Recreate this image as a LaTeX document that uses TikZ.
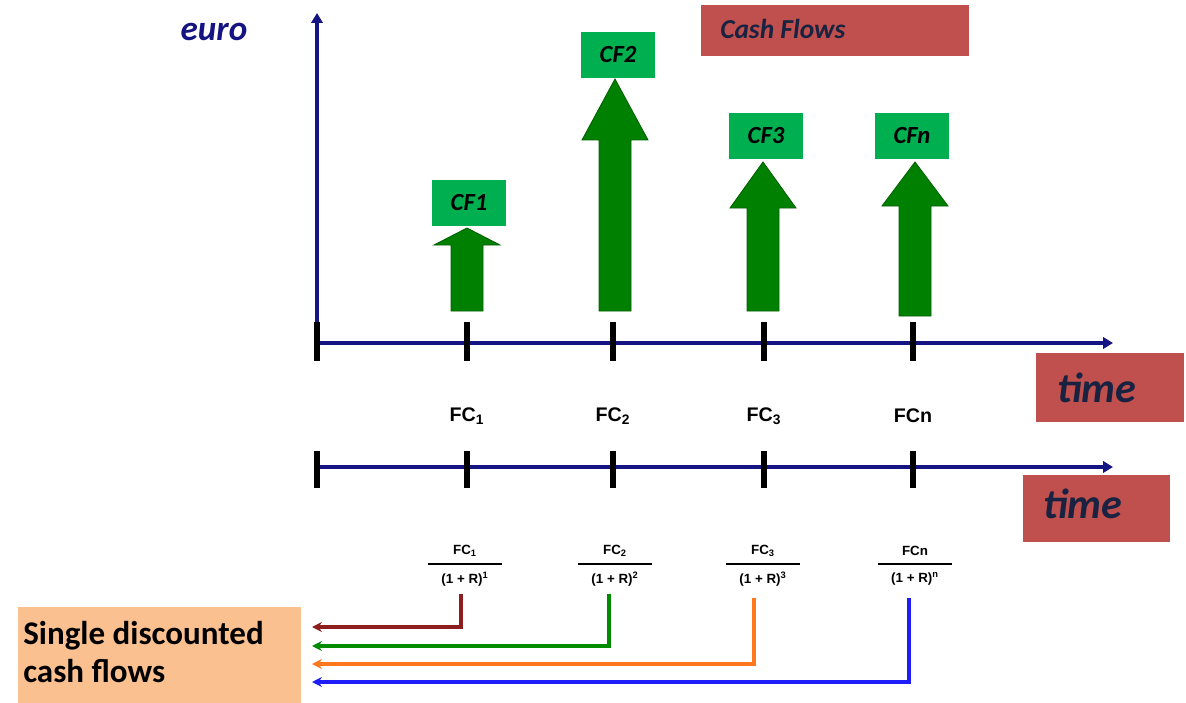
\documentclass[tikz,border=0pt]{standalone}
\usepackage{fontspec}
\setmainfont{Carlito}
\newfontfamily\arialfont{Liberation Sans}
\usetikzlibrary{arrows.meta, positioning}
\definecolor{navy}{RGB}{20,20,130}
\definecolor{cfred}{RGB}{192,80,77}
\definecolor{cftext}{RGB}{25,35,65}
\definecolor{cflight}{RGB}{0,176,80}
\definecolor{cfdark}{RGB}{0,128,0}
\definecolor{cfedge}{RGB}{0,95,0}
\definecolor{discorange}{RGB}{250,192,144}
\definecolor{linered}{RGB}{140,30,30}
\definecolor{linegreen}{RGB}{0,140,0}
\definecolor{lineorange}{RGB}{255,120,30}
\definecolor{lineblue}{RGB}{30,30,250}
\tikzset{
    axis/.style={navy, line width=2.6pt, -{Triangle[length=7pt, width=8pt]}},
    tick/.style={black, line width=4.2pt},
    redlabel/.style={text=cftext, font=\bfseries\itshape\fontsize{30}{34}\selectfont, anchor=base west, inner sep=0pt},
    cflabel/.style={fill=cflight, text=black, font=\bfseries\itshape\fontsize{17.5}{20}\selectfont,
        minimum width=52pt, minimum height=33pt, inner sep=0pt},
    cfarrow/.style={fill=cfdark, draw=cfedge, line width=0.6pt},
    fclabel/.style={font=\arialfont\bfseries\fontsize{14}{16}\selectfont, inner sep=0pt},
    fracpart/.style={font=\arialfont\bfseries\fontsize{9.5}{11}\selectfont, inner sep=0pt},
    back/.style={line width=2.4pt, -{Stealth[length=7pt, width=7pt]}}
}

\begin{document}
\begin{tikzpicture}[x=0.025cm, y=-0.025cm]
            \useasboundingbox (0,0) rectangle (1186,703);
            \fill[cfred] (701,5) rectangle (969,56);
            \fill[cfred] (1036,353) rectangle (1184,422);
            \fill[cfred] (1023,475) rectangle (1170,542);
            \fill[discorange] (18,607) rectangle (301,703);
            \node[redlabel, font=\bfseries\itshape\fontsize{19.5}{22}\selectfont] (cashflows) at (720,39) {Cash Flows};
            \node[redlabel] (time1) at (1057,402) {time};
            \node[redlabel] (time2) at (1043,518) {time};
            \node[text=navy, font=\bfseries\itshape\fontsize{25}{28}\selectfont, anchor=base, inner sep=0pt] (euro) at (214,41) {euro};
            \draw[axis] (317,343) -- (317,13);
            \draw[axis] (317,343) -- (1113,343);
            \draw[axis] (317,467) -- (1113,467);
            \foreach \x in {317,467,613,764,913} {
                \draw[tick] (\x,322) -- (\x,361);
                \draw[tick] (\x,451) -- (\x,488);
            }
            \foreach \x/\b/\h/\t in {467/311/245/228, 615/311/140/79, 763/311/208/162, 915/316/206/162}
                \filldraw[cfarrow] (\x-16,\b) -- (\x-16,\h) -- (\x-33,\h) -- (\x,\t) -- (\x+33,\h) -- (\x+16,\h) -- (\x+16,\b) -- cycle;
            \node[cflabel] (cf1) at (469,203) {CF1};
            \node[cflabel] (cf2) at (618,55) {CF2};
            \node[cflabel] (cf3) at (766,136) {CF3};
            \node[cflabel] (cfn) at (912,136) {CFn};
            \node[fclabel] (fc1) at (467,416) {FC\textsubscript{1}};
            \node[fclabel] (fc2) at (613,416) {FC\textsubscript{2}};
            \node[fclabel] (fc3) at (764,416) {FC\textsubscript{3}};
            \node[fclabel] (fcn) at (913,416) {FCn};
            \foreach \x/\n/\e [count=\i] in {465/FC\textsubscript{1}/1, 615/FC\textsubscript{2}/2, 763/FC\textsubscript{3}/3, 915/FCn/n} {
                \node[fracpart] (num\i) at (\x,551) {\n};
                \draw[line width=2pt] (\x-37,564) -- (\x+37,564);
                \node[fracpart] (den\i) at (\x,579) {(1 + R)\textsuperscript{\e}};
            }
            \node[font=\bfseries\fontsize{23.5}{27}\selectfont, align=left, anchor=north west, inner sep=0pt] (single) at (23,621) {Single discounted\\cash flows};
            \coordinate (s1) at (461,594);
            \coordinate (s2) at (609,594);
            \coordinate (s3) at (754,598);
            \coordinate (s4) at (909,598);
            \coordinate (e1) at (312,627);
            \coordinate (e2) at (312,646);
            \coordinate (e3) at (312,664);
            \coordinate (e4) at (312,682);
            \draw[back, linered] (s1) |- (e1);
            \draw[back, linegreen] (s2) |- (e2);
            \draw[back, lineorange] (s3) |- (e3);
            \draw[back, lineblue] (s4) |- (e4);
\end{tikzpicture}
\end{document}
